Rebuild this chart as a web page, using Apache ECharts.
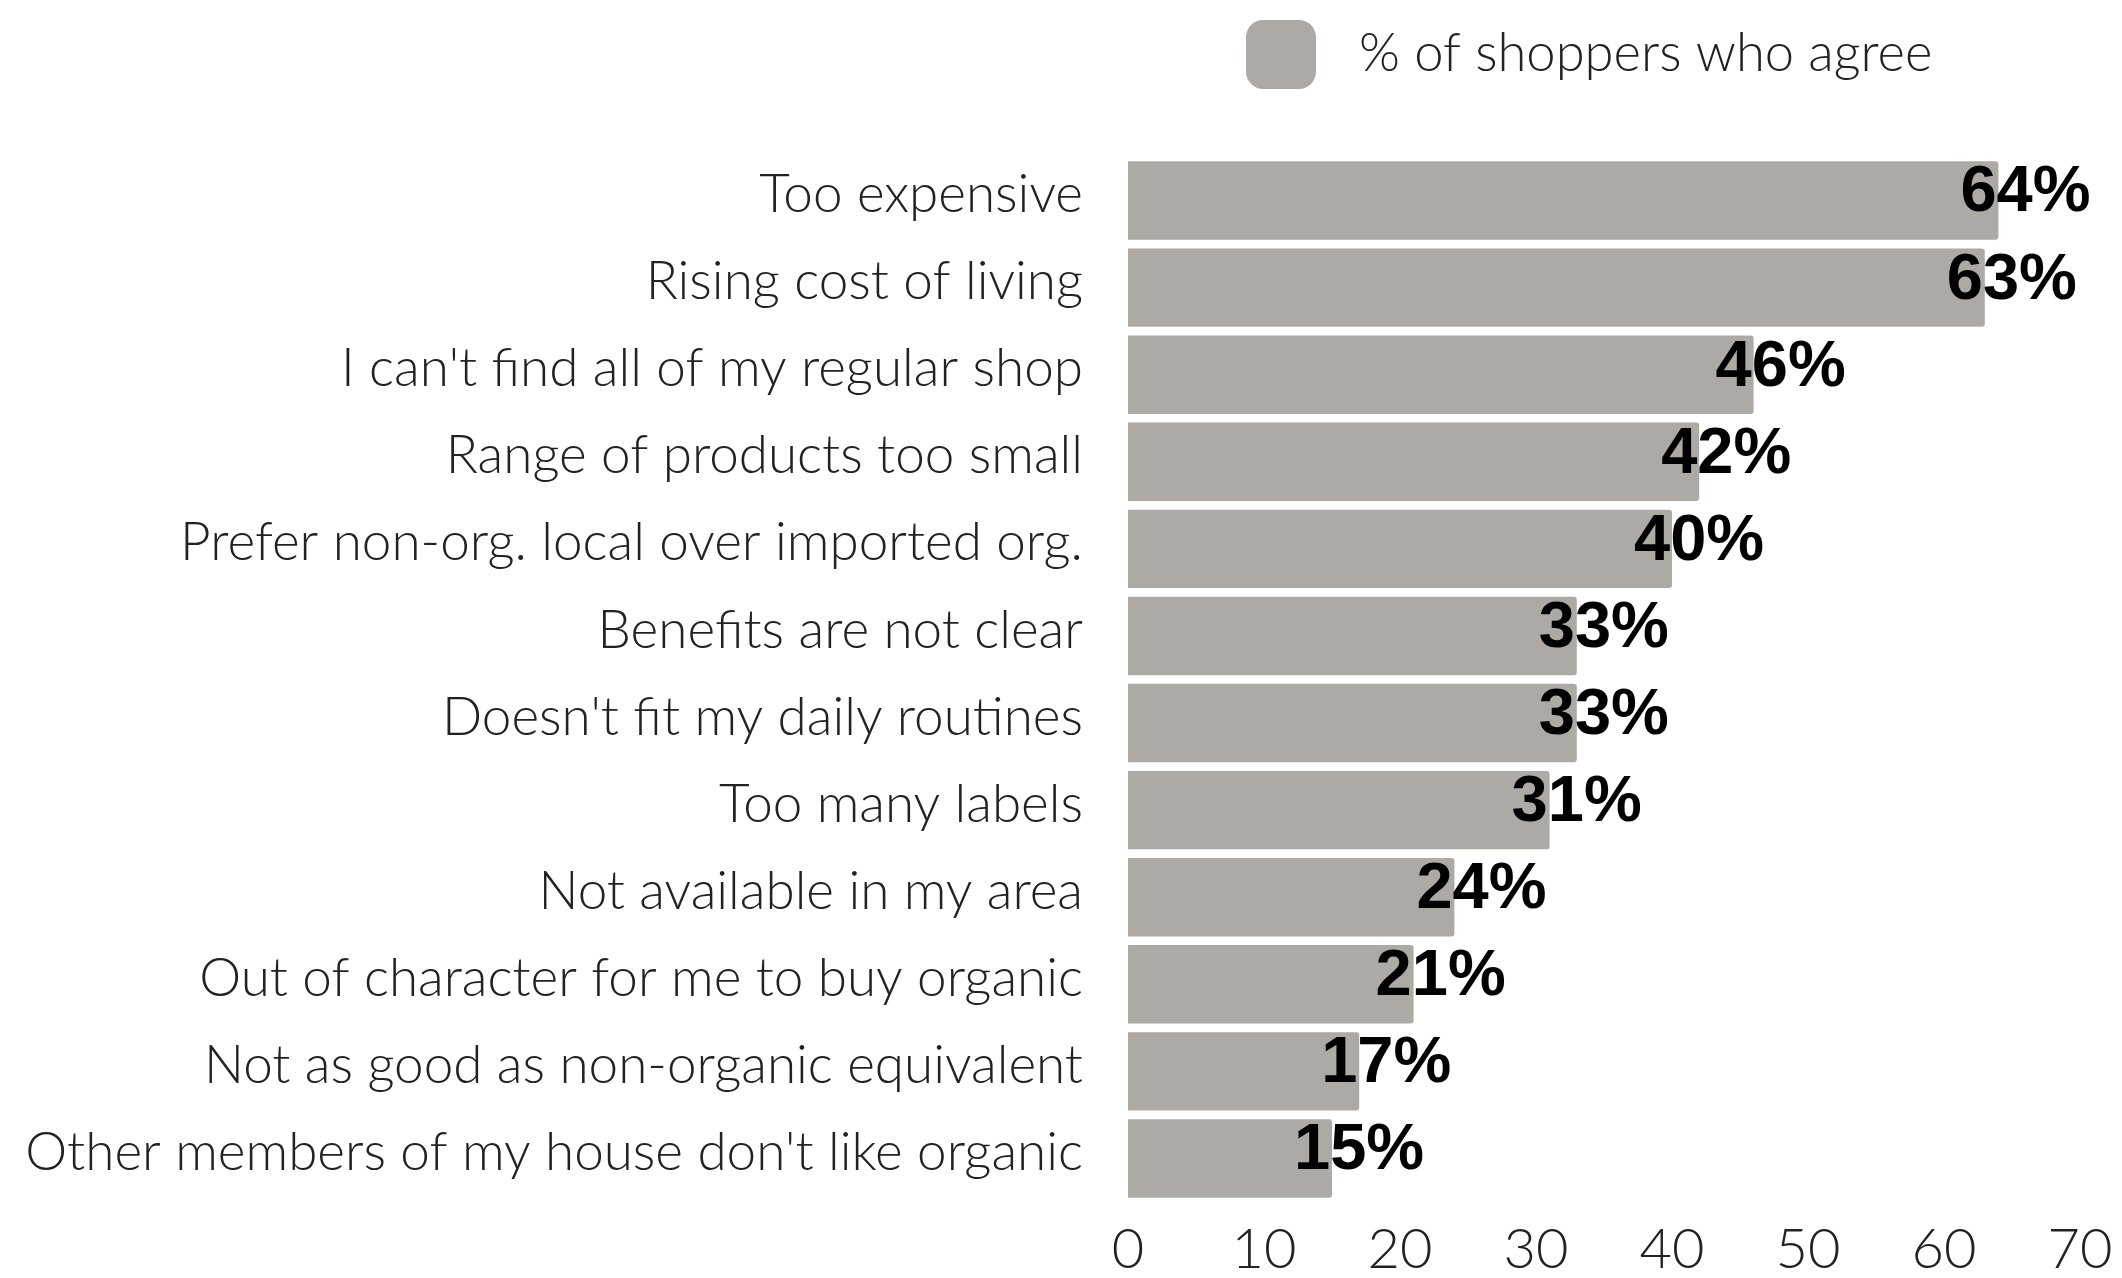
<!DOCTYPE html>
<html>
<head>
<meta charset="utf-8">
<title>Barriers to buying organic</title>
<script src="https://cdn.jsdelivr.net/npm/echarts@6/dist/echarts.min.js"></script>
<style>
  html, body { margin: 0; padding: 0; background: #ffffff; }
  #chart { width: 2122px; height: 1278px; }
</style>
</head>
<body>
<div id="chart"></div>
<script>
// Reasons shoppers give for not buying organic
const categories = [
  "Too expensive",
  "Rising cost of living",
  "I can't find all of my regular shop",
  "Range of products too small",
  "Prefer non-org. local over imported org.",
  "Benefits are not clear",
  "Doesn't fit my daily routines",
  "Too many labels",
  "Not available in my area",
  "Out of character for me to buy organic",
  "Not as good as non-organic equivalent",
  "Other members of my house don't like organic"
];

// Share of shoppers agreeing with each statement (%)
const agreePct = [64, 63, 46, 42, 40, 33, 33, 31, 24, 21, 17, 15];

const seriesName = "% of shoppers who agree";
const xTicks = { min: 0, max: 70, step: 10 };

const barColor = "#adaaa5";
const textColor = "#222222";
const lightFont = "Lato";

const chart = echarts.init(document.getElementById("chart"), null, { renderer: "canvas" });

chart.setOption({
  backgroundColor: "#ffffff",
  animation: false,
  legend: {
    data: [seriesName],
    left: 1246,
    top: 20,
    padding: 0,
    itemWidth: 70,
    itemHeight: 69,
    icon: "roundRect",
    textStyle: {
      fontFamily: lightFont,
      fontWeight: 300,
      fontSize: 52.5,
      color: textColor,
      padding: [0, 0, 0, 38],
      verticalAlign: "bottom",
      lineHeight: 8
    }
  },
  grid: {
    left: 1128,
    right: 42,
    top: 157,
    bottom: 74,
    containLabel: false
  },
  xAxis: {
    type: "value",
    min: xTicks.min,
    max: xTicks.max,
    interval: xTicks.step,
    axisLine: { show: false },
    axisTick: { show: false },
    splitLine: { show: false },
    axisLabel: {
      margin: 20,
      fontFamily: lightFont,
      fontWeight: 300,
      fontSize: 56,
      color: textColor
    }
  },
  yAxis: {
    type: "category",
    data: categories,
    inverse: true,
    axisLine: { show: false },
    axisTick: { show: false },
    splitLine: { show: false },
    axisLabel: {
      margin: 45,
      fontFamily: lightFont,
      fontWeight: 300,
      fontSize: 53,
      color: textColor,
      verticalAlign: "bottom",
      lineHeight: 11
    }
  },
  series: [{
    name: seriesName,
    type: "bar",
    data: agreePct,
    barCategoryGap: "10%",
    itemStyle: {
      color: barColor,
      borderRadius: [0, 3, 3, 0]
    },
    label: {
      show: true,
      position: "right",
      distance: 0,
      offset: [-38, -7],
      formatter: (p) => p.value + "%",
      fontFamily: "Liberation Sans, Arial, sans-serif",
      fontWeight: "bold",
      fontSize: 65,
      color: "#000000"
    }
  }]
});
</script>
</body>
</html>
